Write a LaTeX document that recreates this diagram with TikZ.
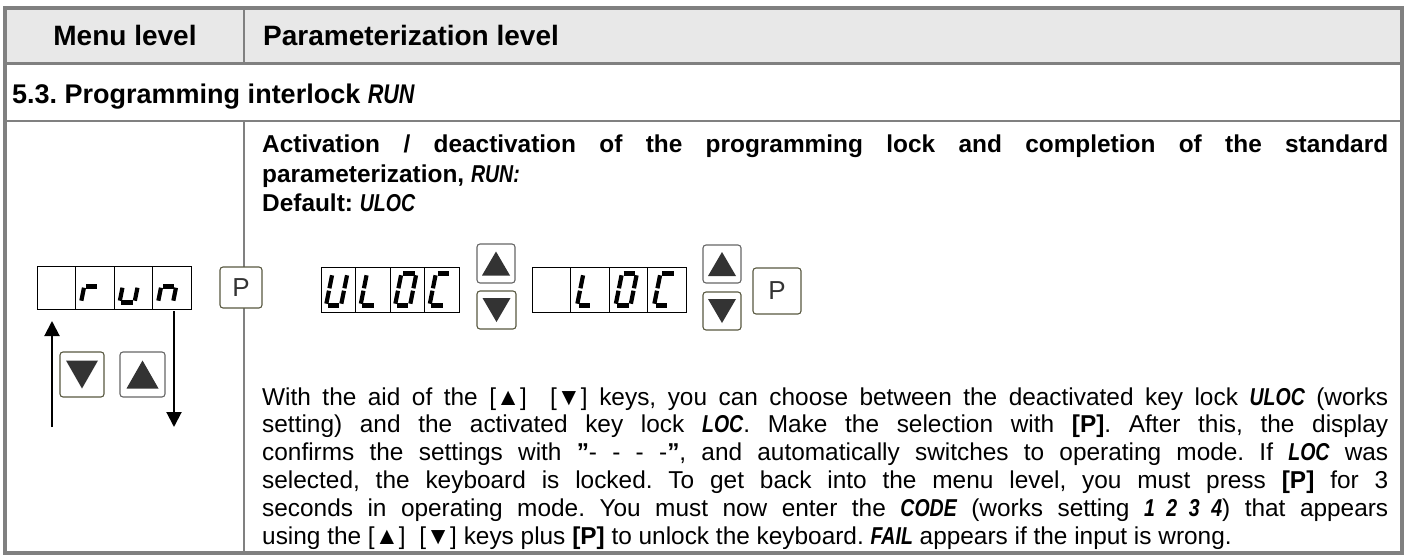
\documentclass[tikz,border=0pt]{standalone}
\usepackage{fontspec}
\setmainfont{Liberation Sans}
\newfontfamily\lcdfont[FakeStretch=0.8]{Liberation Sans}
\usetikzlibrary{calc}
\usetikzlibrary{arrows.meta}
\usetikzlibrary{positioning}
\definecolor{framegray}{RGB}{128,128,128}
\definecolor{headfill}{RGB}{232,232,232}
\definecolor{keytri}{RGB}{51,51,51}
\definecolor{keyrim}{RGB}{88,88,64}
\frenchspacing

\newcommand{\lcd}[1]{{\lcdfont\bfseries\itshape #1}}
% seven segment pieces, glyph box 15 x 32
\newcommand{\segA}{\draw[segline] (1.8,32) -- (13.2,32);}
\newcommand{\segB}{\draw[segline] (15,30.2) -- (15,17.2);}
\newcommand{\segC}{\draw[segline] (15,14.8) -- (15,1.8);}
\newcommand{\segD}{\draw[segline] (1.8,0) -- (13.2,0);}
\newcommand{\segE}{\draw[segline] (0,14.8) -- (0,1.8);}
\newcommand{\segF}{\draw[segline] (0,30.2) -- (0,17.2);}
\newcommand{\segG}{\draw[segline] (1.8,16) -- (13.2,16);}
\newcommand{\seggl}[3]{\begin{scope}[shift={(#1,#2)},x={(1pt,0pt)},y={(0.2pt,1pt)}]
    \foreach \s in {#3}{\csname seg\s\endcsname}\end{scope}}
\newcommand{\uptri}[3]{\fill[keytri] ($(#1.center)+(0,-#2)$) -- ($(#1.center)+(#3,#2)$) -- ($(#1.center)+(-#3,#2)$) -- cycle;}
\newcommand{\dntri}[3]{\fill[keytri] ($(#1.center)+(0,#2)$) -- ($(#1.center)+(#3,-#2)$) -- ($(#1.center)+(-#3,-#2)$) -- cycle;}

\tikzset{
  dispbox/.style={draw=black, line width=1pt, fill=white, inner sep=0pt, outer sep=0pt, anchor=north west},
  segline/.style={line width=4.2pt, line cap=butt},
  btn/.style={draw=keyrim, line width=1.1pt, fill=white, rounded corners=3pt, inner sep=0pt, outer sep=0pt,
              anchor=north west, text=keytri, font=\fontsize{26}{30}\selectfont},
  flowarrow/.style={line width=2pt, -{Triangle[width=15pt,length=15pt]}},
  headtext/.style={font=\fontsize{28}{34}\selectfont\bfseries, inner sep=0pt},
  bodytext/.style={font=\fontsize{24.4}{27.8}\selectfont, inner sep=0pt, text width=1126pt, align=justify, anchor=base west}
}

\begin{document}
\begin{tikzpicture}[x=1pt,y=-1pt]
    \useasboundingbox (0,0) rectangle (1407,556);
    % Table grid
    \fill[headfill]                                  (5,8)     rectangle (1402,64);
    \draw[framegray, line width=3pt]                 (5,64)    -- (1402,64);
    \draw[framegray, line width=2.5pt]               (5,121)   -- (1402,121);
    \draw[framegray, line width=2pt]                 (244,8)   -- (244,64);
    \draw[framegray, line width=1.5pt]               (244,121) -- (244,553);
    \draw[framegray, line width=4pt]                 (5,8)     rectangle (1402,553);
    % Headings
    \node[headtext, anchor=base]      (menuhead)  at (125,46)  {Menu level};
    \node[headtext, anchor=base west] (paramhead) at (263,46)  {Parameterization level};
    \node[headtext, font=\fontsize{27}{32}\selectfont\bfseries, anchor=base west] (sechead) at (12,104)
         {5.3. Programming interlock \lcd{RUN}};
    % Menu level: run display, P key, arrow keys
    \node[dispbox, minimum width=154pt, minimum height=43pt] (runlcd) at (37,266) {};
    \foreach \cx in {75.5,114,152.5} \draw[line width=1pt] (\cx,266) -- (\cx,309);
    \seggl{81}{302.5}{E,G}
    \seggl{119.5}{302.5}{C,D,E}
    \seggl{158}{302.5}{C,E,G}
    \node[btn, minimum width=42pt, minimum height=41pt] (pmenu) at (220,267) {P};
    \node[btn, minimum width=44pt, minimum height=45pt] (dnmenu) at (60,352) {};
    \node[btn, draw=gray!80!black, minimum width=45pt, minimum height=45pt] (upmenu) at (120,352) {};
    \dntri{dnmenu}{14}{16}
    \uptri{upmenu}{14}{16}
    \coordinate (upfoot) at (52,427);
    \coordinate (dnfoot) at (174,427);
    \draw[flowarrow, shorten >=12pt] (upfoot) -- (upfoot |- runlcd.south);
    \draw[flowarrow, shorten <=2pt]  (dnfoot |- runlcd.south) -- (dnfoot);
    % Parameterization level: intro
    \node[bodytext, font=\fontsize{24.4}{29.5}\selectfont\bfseries] (intro) at (262,153)
         {Activation / deactivation of the programming lock and completion of the standard\linebreak
          parameterization, \lcd{RUN:}\\
          Default: \lcd{ULOC}};
    % ULOC display
    \node[dispbox, minimum width=138pt, minimum height=45pt] (uloclcd) at (321,267) {};
    \foreach \cx in {355.5,390,424.5} \draw[line width=1pt] (\cx,267) -- (\cx,312);
    \seggl{326}{305.5}{B,C,D,E,F}
    \seggl{360.5}{305.5}{D,E,F}
    \seggl{395}{305.5}{A,B,C,D,E,F}
    \seggl{429.5}{305.5}{A,D,E,F}
    \node[btn, draw=gray!80!black, minimum width=38pt, minimum height=39pt] (upa) at (477,244) {};
    \node[btn, minimum width=39pt, minimum height=38pt] (dna) at (477,291) {};
    \uptri{upa}{12}{14}
    \dntri{dna}{12}{14}
    % LOC display
    \node[dispbox, minimum width=154pt, minimum height=45pt] (loclcd) at (532,267) {};
    \foreach \cx in {570.5,609,647.5} \draw[line width=1pt] (\cx,267) -- (\cx,312);
    \seggl{577}{305.5}{D,E,F}
    \seggl{615.5}{305.5}{A,B,C,D,E,F}
    \seggl{654}{305.5}{A,D,E,F}
    \node[btn, draw=gray!80!black, minimum width=38pt, minimum height=38pt] (upb) at (703,245) {};
    \node[btn, minimum width=38pt, minimum height=38pt] (dnb) at (703,292) {};
    \uptri{upb}{12}{14}
    \dntri{dnb}{12}{14}
    \node[btn, minimum width=48pt, minimum height=46pt] (pparam) at (753,268) {P};
    % Explanation
    \node[bodytext] (howto) at (262,405)
         {With the aid of the [▲]~~[▼] keys, you can choose between the deactivated key lock \lcd{ULOC} (works\linebreak
          setting) and the activated key lock \lcd{LOC}. Make the selection with \textbf{[P]}. After this, the display\linebreak
          confirms the settings with \textbf{\char"22}- - - -\textbf{\char"22}, and automatically switches to operating mode. If \lcd{LOC} was\linebreak
          selected, the keyboard is locked. To get back into the menu level, you must press \textbf{[P]} for 3\linebreak
          seconds in operating mode. You must now enter the \lcd{CODE} (works setting \lcd{1 2 3 4}) that appears\linebreak
          using the [▲]~~[▼] keys plus \textbf{[P]} to unlock the keyboard. \lcd{FAIL} appears if the input is wrong.};
\end{tikzpicture}
\end{document}
